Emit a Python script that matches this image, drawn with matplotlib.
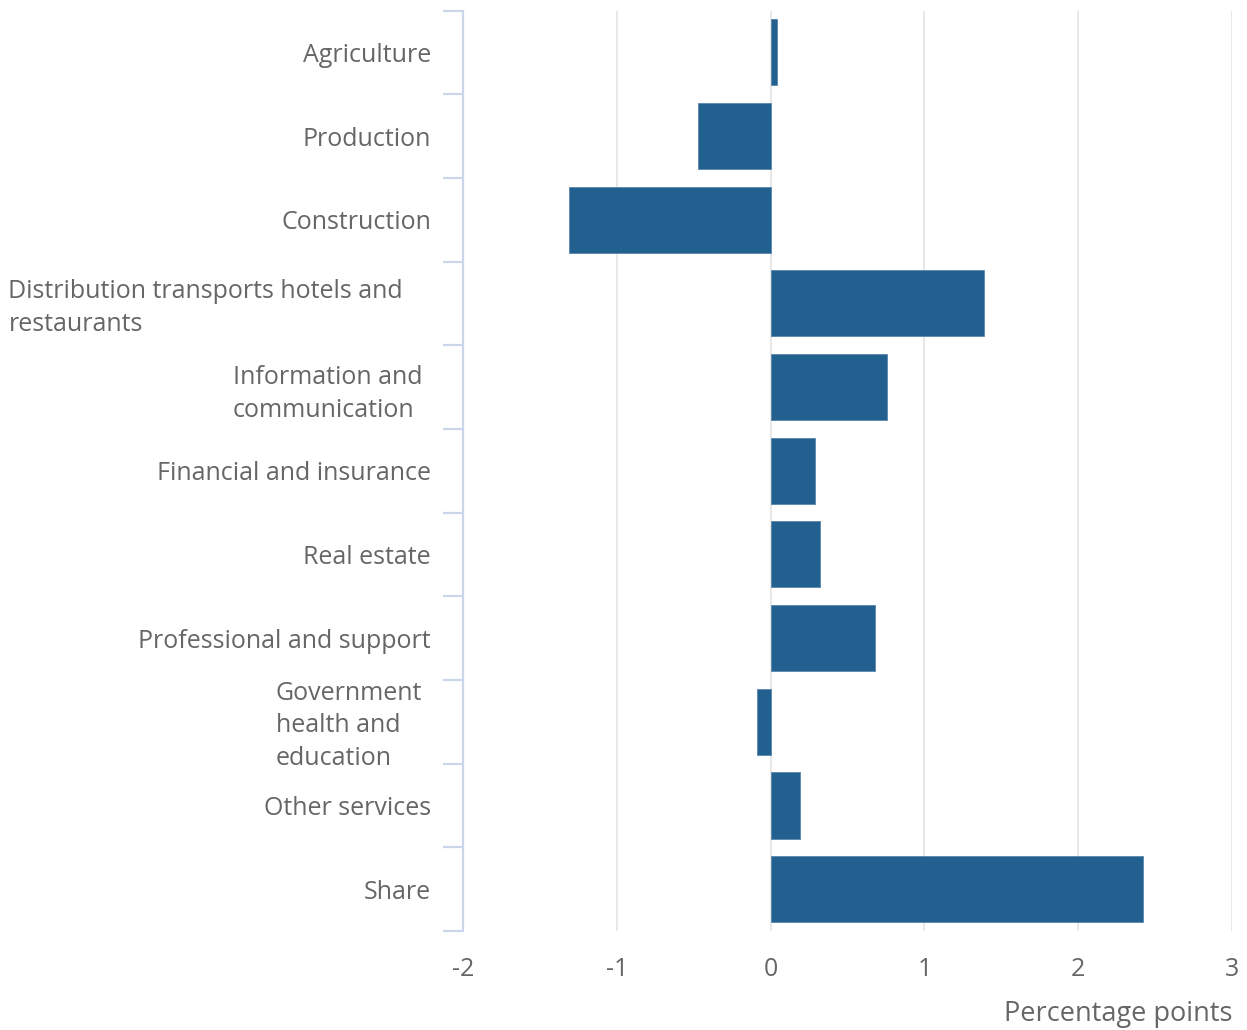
import matplotlib
matplotlib.use("Agg")
import matplotlib.pyplot as plt
import matplotlib.transforms as mtransforms
import numpy as np

categories = [
    "Agriculture",
    "Production",
    "Construction",
    "Distribution transports hotels and\nrestaurants",
    "Information and\ncommunication",
    "Financial and insurance",
    "Real estate",
    "Professional and support",
    "Government\nhealth and\neducation",
    "Other services",
    "Share",
]
values = [0.04, -0.47, -1.31, 1.385, 0.755, 0.29, 0.32, 0.68, -0.087, 0.19, 2.42]
xticks = [-2, -1, 0, 1, 2, 3]

plt.rcParams["font.family"] = ["Open Sans", "DejaVu Sans"]
text_color = "#666666"

fig = plt.figure(figsize=(12.47, 10.30), dpi=100)
ax = fig.add_axes([0.3713, 0.0961, 0.988 - 0.3713, 0.9898 - 0.0961])

ypos = np.arange(len(categories))
ax.barh(ypos, values, height=0.79, color="#21608f", edgecolor="#5a87ad",
        linewidth=0.6, zorder=3)

ax.set_xlim(-2, 3)
ax.set_ylim(len(categories) - 0.5, -0.5)

ax.set_xticks(xticks)
ax.set_xticklabels([str(t) for t in xticks])
ax.tick_params(axis="x", length=0, pad=19, labelsize=18, labelcolor=text_color)
ax.grid(axis="x", color="#e6e6e6", linewidth=1.3, zorder=0)

ax.set_yticks(ypos)
ax.set_yticklabels(categories, multialignment="left", linespacing=1.4)
ax.tick_params(axis="y", which="major", length=0, pad=23, labelsize=18,
               labelcolor=text_color)
ax.set_yticks(np.arange(len(categories) + 1) - 0.5, minor=True)
ax.tick_params(axis="y", which="minor", length=14.5, width=1.6, color="#ccd6eb")

# wrapped labels sit a bit further left in the original
shifts = {3: (-28, 2), 4: (-9, 0), 8: (-9, 3)}
for i, lab in enumerate(ax.get_yticklabels()):
    if i in shifts:
        dx, dy = shifts[i]
        lab.set_transform(lab.get_transform() +
                          mtransforms.ScaledTranslation(dx / 100, dy / 100,
                                                        fig.dpi_scale_trans))

for side in ["top", "right", "bottom"]:
    ax.spines[side].set_visible(False)
ax.spines["left"].set_color("#ccd6eb")
ax.spines["left"].set_linewidth(1.6)

fig.text(0.988, 0.0155, "Percentage points", ha="right", va="center",
         fontsize=19.5, color=text_color)

fig.savefig("out.png", dpi=100, facecolor="white")
